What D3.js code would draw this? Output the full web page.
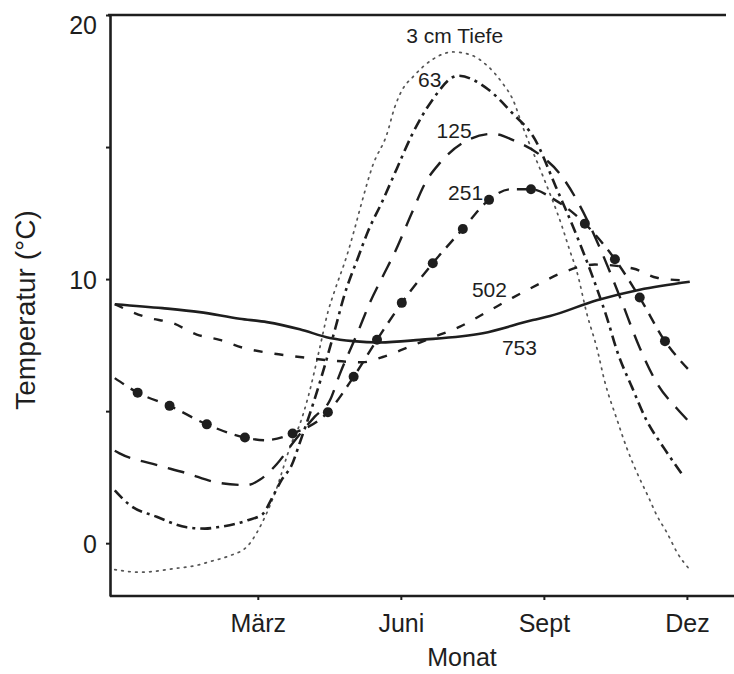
<!DOCTYPE html>
<html>
<head>
<meta charset="utf-8">
<script src="https://cdn.jsdelivr.net/npm/d3@7"></script>
<style>
  html, body { margin: 0; padding: 0; background: #fff; }
  svg { display: block; }
  text { font-family: "Liberation Sans", Arial, Helvetica, sans-serif; fill: #1e1e1e; }
</style>
</head>
<body>
<svg id="chart" width="734" height="674"></svg>
<script>
// ---- data (months: März = 3, Juni = 6, Sept = 9, Dez = 12; temperatures in °C) ----
const monthTicks  = [3, 6, 9, 12];
const monthLabels = ["März", "Juni", "Sept", "Dez"];
const tempTicks   = [0, 5, 10, 15, 20];
const tempLabels  = ["0", "", "10", "", "20"];

const depthNames = ["3 cm Tiefe", "63", "125", "251", "502", "753"];

const month3 = [0,0.52,1.30,1.74,1.99,2.37,2.79,2.98,3.36,3.71,3.88,4.05,4.30,4.47,4.62,4.87,5.03,5.18,5.41,5.71,5.87,6.04,6.25,6.65,7.09,7.45,7.80,8.14,8.35,8.56,8.98,9.38,9.54,9.69,9.90,10.11,10.28,10.53,10.74,10.97,11.18,11.37,11.58,11.81,12.06];
const temp3  = [-1.0,-1.1,-0.95,-0.83,-0.7,-0.5,-0.1,0.4,1.9,3.8,4.5,5.5,7.4,8.75,9.6,10.9,11.9,12.9,14.3,15.5,16.5,17.2,17.65,18.3,18.6,18.5,18.1,17.4,16.8,15.75,13.9,12.0,11.1,10.3,8.7,7.4,6.1,4.7,3.6,2.6,1.8,1.05,0.4,-0.4,-1.0];

const month63 = [0,0.31,0.88,1.51,1.89,2.14,2.79,3.10,3.31,3.50,3.71,3.88,4.20,4.62,4.80,5.12,5.31,5.60,5.92,6.23,6.63,7.20,7.82,8.33,8.81,9.25,9.71,10.01,10.32,10.55,10.85,11.14,11.52,11.94];
const temp63  = [2.0,1.45,1.0,0.6,0.55,0.6,0.87,1.1,1.75,2.4,2.95,3.8,5.5,8.1,9.3,10.9,11.8,12.9,14.2,15.45,16.7,17.7,17.2,16.3,15.3,13.5,11.55,10.15,8.55,7.2,5.9,4.7,3.6,2.5];

const month125 = [0,0.10,0.80,1.51,2.14,2.77,3.04,3.40,3.78,4.20,4.51,4.72,5.10,5.35,5.62,5.87,6.23,6.50,6.82,7.34,7.93,8.43,8.92,9.33,9.75,10.17,10.60,11.01,11.39,11.79,12.02];
const temp125  = [3.5,3.4,3.0,2.65,2.3,2.2,2.4,3.0,3.9,4.8,5.4,6.4,8.0,9.1,10.1,11.0,12.5,13.6,14.4,15.2,15.5,15.2,14.7,14.0,12.8,11.2,9.3,7.4,6.0,5.1,4.65];

const month251  = [0,0.48,1.15,1.93,2.73,3.15,3.73,4.47,5.01,5.50,6.02,6.67,7.30,7.85,8.29,8.73,9.23,9.86,10.49,11.01,11.54,12.02];
const temp251   = [6.25,5.7,5.2,4.5,4.0,3.9,4.15,4.96,6.3,7.7,9.1,10.6,11.9,13.0,13.4,13.4,13.0,12.1,10.75,9.3,7.65,6.6];
const marker251 = [0,1,1,1,1,0,1,1,1,1,1,1,1,1,0,1,0,1,1,1,1,0];

const month502 = [0,0.67,1.22,1.72,2.20,2.69,3.25,3.88,4.45,5.20,5.62,6.13,6.61,7.24,7.80,8.35,8.85,9.33,10.07,10.87,11.37,11.92];
const temp502  = [9.05,8.55,8.33,7.9,7.7,7.4,7.2,7.05,6.93,6.85,7.05,7.4,7.75,8.2,8.75,9.3,9.77,10.2,10.55,10.4,10.05,9.95];

const month753 = [0,1.0,1.78,2.62,3.19,3.88,4.51,5.0,5.56,6.40,7.72,8.77,9.13,10.11,11.01,12.06];
const temp753  = [9.05,8.9,8.75,8.5,8.37,8.1,7.77,7.65,7.6,7.7,7.95,8.45,8.6,9.2,9.6,9.9];

// curve label anchors (month, temperature)
const labelMonth = [7.13, 6.36, 6.75, 6.99, 7.49, 8.12];
const labelTemp  = [18.94, 17.27, 15.34, 12.99, 9.32, 7.12];

// ---- chart ----
const W = 734, H = 674;
const svg = d3.select("#chart");
svg.append("rect").attr("width", W).attr("height", H).attr("fill", "#fff");

const x = d3.scaleLinear().domain([-0.1, 12.82]).range([110, 726]);
const y = d3.scaleLinear().domain([-2, 20]).range([596, 15]);

const ink = "#1e1e1e";

const zip = (ms, ts) => ms.map((m, i) => ({ m, t: ts[i] }));
const series = [
  { name: depthNames[0], pts: zip(month3, temp3),     dash: "1.6,5.4", width: 1.7, color: "#555", cap: "round" },
  { name: depthNames[1], pts: zip(month63, temp63),   dash: "11,5,3,5", width: 2.6, color: ink, cap: "butt" },
  { name: depthNames[2], pts: zip(month125, temp125), dash: "17,11",    width: 2.4, color: ink, cap: "butt" },
  { name: depthNames[3], pts: zip(month251, temp251), dash: "11,8",     width: 2.4, color: ink, cap: "butt" },
  { name: depthNames[4], pts: zip(month502, temp502), dash: "9,12",     width: 2.4, color: ink, cap: "butt" },
  { name: depthNames[5], pts: zip(month753, temp753), dash: null,       width: 2.6, color: ink, cap: "butt" }
];

const line = d3.line().x(d => x(d.m)).y(d => y(d.t)).curve(d3.curveMonotoneX);

const g = svg.append("g");
series.forEach(s => {
  g.append("path")
    .datum(s.pts)
    .attr("d", line)
    .attr("fill", "none")
    .attr("stroke", s.color)
    .attr("stroke-width", s.width)
    .attr("stroke-linecap", s.cap)
    .attr("stroke-dasharray", s.dash);
});

// markers on 251 cm curve
g.selectAll("circle.m251")
  .data(zip(month251, temp251).filter((d, i) => marker251[i]))
  .join("circle")
  .attr("class", "m251")
  .attr("cx", d => x(d.m))
  .attr("cy", d => y(d.t))
  .attr("r", 5)
  .attr("fill", ink);

// curve labels
svg.selectAll("text.clabel")
  .data(depthNames)
  .join("text")
  .attr("class", "clabel")
  .attr("x", (d, i) => x(labelMonth[i]))
  .attr("y", (d, i) => y(labelTemp[i]))
  .attr("text-anchor", (d, i) => i === 0 ? "middle" : "start")
  .style("font-size", "21px")
  .text(d => d);

// axes
const yAxis = d3.axisLeft(y)
  .tickValues(tempTicks)
  .tickFormat((d, i) => tempLabels[i])
  .tickSize(4).tickPadding(9).tickSizeOuter(0);
const gy = svg.append("g").attr("transform", `translate(${x.range()[0]},0)`).call(yAxis);
gy.select(".domain").attr("stroke", ink).attr("stroke-width", 2.6);
gy.selectAll(".tick line").attr("stroke", ink).attr("stroke-width", 2);
gy.selectAll(".tick text")
  .style("font-size", "25px").attr("fill", ink).attr("font-family", null)
  .attr("dy", d => d === 20 ? "0.75em" : "0.36em");

const xAxis = d3.axisBottom(x)
  .tickValues(monthTicks)
  .tickFormat((d, i) => monthLabels[i])
  .tickSize(4).tickPadding(14).tickSizeOuter(0);
const gx = svg.append("g").attr("transform", `translate(0,${y.range()[0]})`).call(xAxis);
gx.select(".domain").remove();
gx.selectAll(".tick line").attr("stroke", ink).attr("stroke-width", 2);
gx.selectAll(".tick text").style("font-size", "25px").attr("fill", ink).attr("font-family", null);

// frame lines: bottom and top
svg.append("line")
  .attr("x1", x.range()[0]).attr("x2", W)
  .attr("y1", y.range()[0]).attr("y2", y.range()[0])
  .attr("stroke", ink).attr("stroke-width", 2.6);
svg.append("line")
  .attr("x1", x.range()[0] - 2).attr("x2", x.range()[1])
  .attr("y1", y.range()[1]).attr("y2", y.range()[1])
  .attr("stroke", ink).attr("stroke-width", 2.6);

// axis titles
svg.append("text")
  .attr("x", (x.range()[0] + x.range()[1]) / 2 + 44)
  .attr("y", 666)
  .attr("text-anchor", "middle")
  .style("font-size", "25px")
  .text("Monat");

svg.append("text")
  .attr("transform", `translate(35,310) rotate(-90)`)
  .attr("text-anchor", "middle")
  .style("font-size", "28px")
  .text("Temperatur (°C)");
</script>
</body>
</html>
